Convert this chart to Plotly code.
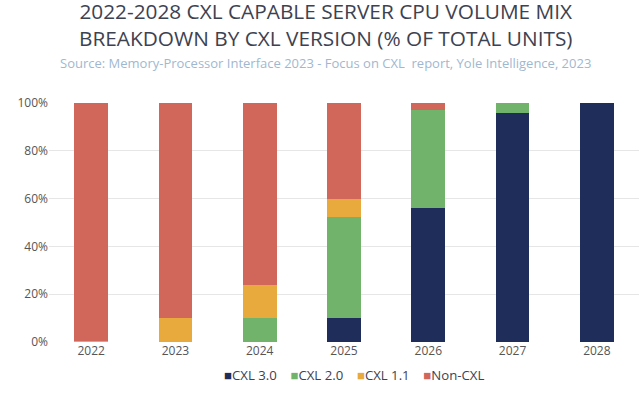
import plotly.graph_objects as go

years = ["2022", "2023", "2024", "2025", "2026", "2027", "2028"]
cxl30 = [0, 0, 0, 10, 56, 96, 100]
cxl20 = [0, 0, 10, 42.5, 41, 4, 0]
cxl11 = [0.5, 10, 14, 7.5, 0, 0, 0]
noncxl = [99.5, 90, 76, 40, 3, 0, 0]

series = [
    ("CXL 3.0", cxl30, "#1f2d5a"),
    ("CXL 2.0", cxl20, "#72b36b"),
    ("CXL 1.1", cxl11, "#e8a93d"),
    ("Non-CXL", noncxl, "#d0675a"),
]

title_text = "2022-2028 CXL CAPABLE SERVER CPU VOLUME MIX<br>BREAKDOWN BY CXL VERSION (% OF TOTAL UNITS)"
source_text = "Source: Memory-Processor Interface 2023 - Focus on CXL  report, Yole Intelligence, 2023"

fig = go.Figure()
for name, vals, col in series:
    fig.add_trace(go.Bar(x=years, y=vals, name=name, marker_color=col,
                         marker_line_width=0, width=0.4, showlegend=False))

H = 239.0
def py(p):
    return (342 - p) / H

legend_text = "&nbsp;&nbsp;&nbsp;&nbsp;".join(
    f"<span style='color:{col}'>■</span>{name}" for name, _, col in series
)

cx = (325.5 - 49) / 590
fig.update_layout(
    barmode="stack",
    width=644, height=394,
    margin=dict(l=49, r=5, t=103, b=52, autoexpand=False),
    paper_bgcolor="white", plot_bgcolor="white",
    font=dict(family="Open Sans", color="#666666"),
    annotations=[
        dict(text=title_text, xref="paper", yref="paper",
             x=cx, y=py(25), xanchor="center", yanchor="middle", showarrow=False,
             font=dict(family="Open Sans", size=20.8, color="#3d4250")),
        dict(text=source_text, xref="paper", yref="paper",
             x=cx, y=py(62.5), xanchor="center", yanchor="middle", showarrow=False,
             font=dict(family="Open Sans", size=13, color="#9fb8d0")),
        dict(text=legend_text, xref="paper", yref="paper",
             x=(354 - 49) / 590, y=py(375), xanchor="center", yanchor="middle", showarrow=False,
             font=dict(family="Open Sans", size=13.2, color="#3d4250")),
    ],
)
fig.update_xaxes(showgrid=False, showline=False, ticks="",
                 tickfont=dict(size=12, color="#555555"), range=[-0.5, 6.5])
fig.update_yaxes(range=[0, 100], tickvals=[0, 20, 40, 60, 80, 100],
                 ticktext=["0%", "20%", "40%", "60%", "80%", "100%"],
                 showgrid=True, gridcolor="#e6e6e6", gridwidth=1, zeroline=False,
                 tickfont=dict(size=12, color="#555555"), ticks="", showline=False)

html = fig.to_html(full_html=True, config={"displayModeBar": False})
html = html.replace("<body>", "<body style=\"margin:0;overflow:hidden\">", 1)
with open("out.html", "w", encoding="utf-8") as f:
    f.write(html)
